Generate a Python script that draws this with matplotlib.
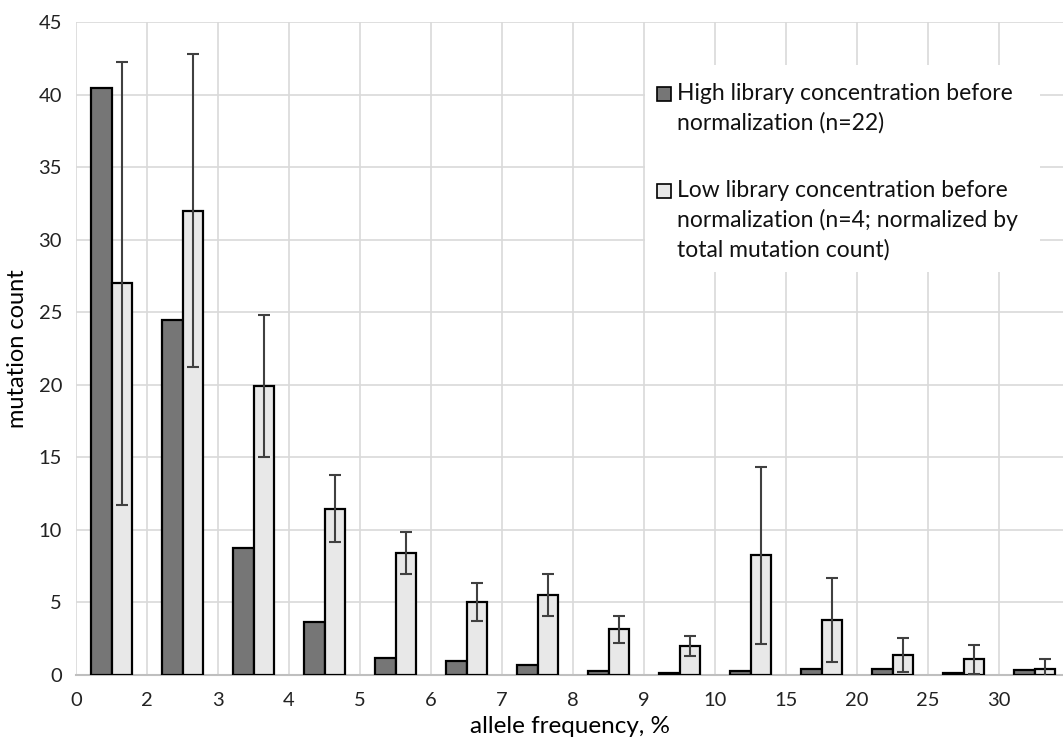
import numpy as np
from matplotlib import pyplot as plt
from matplotlib.patches import Rectangle

tick_labels = ['0', '2', '3', '4', '5', '6', '7', '8', '9', '10', '15', '20', '25', '30']
high_conc = [40.45, 24.45, 8.73, 3.63, 1.15, 0.99, 0.69, 0.28, 0.14, 0.28, 0.41, 0.41, 0.14, 0.34]
low_conc = [27.0, 32.0, 19.9, 11.46, 8.38, 5.03, 5.51, 3.15, 2.0, 8.25, 3.77, 1.38, 1.1, 0.41]
low_err = [15.25, 10.8, 4.9, 2.3, 1.45, 1.3, 1.47, 0.95, 0.72, 6.1, 2.9, 1.2, 1.0, 0.7]

high_label = 'High library concentration before\nnormalization (n=22)'
low_label = 'Low library concentration before\nnormalization (n=4; normalized by\ntotal mutation count)'
dark = '#767676'
light = '#e8e8e8'

plt.rcParams['font.family'] = ['Lato', 'DejaVu Sans']

fig = plt.figure(figsize=(10.63, 7.39), dpi=100)
ax = fig.add_axes([0.0715, 0.0866, 0.9285, 0.8836])

n = len(high_conc)
x = np.arange(n) + 0.5
w = 0.29

ax.bar(x - w/2, high_conc, w, color=dark, edgecolor='black', linewidth=1.6, zorder=3)
ax.bar(x + w/2, low_conc, w, color=light, edgecolor='black', linewidth=1.6, zorder=3)
ax.errorbar(x + w/2, low_conc, yerr=low_err, fmt='none', ecolor='#404040',
            elinewidth=1.5, capsize=4, capthick=1.5, zorder=4)

ax.set_xlim(0, 13.9)
ax.set_ylim(0, 45)
ax.set_xticks(np.arange(n))
ax.set_xticklabels(tick_labels)
ax.set_yticks(np.arange(0, 46, 5))
ax.tick_params(axis='both', length=0, labelsize=14.5, colors='#222222')
ax.tick_params(axis='x', pad=12)
ax.tick_params(axis='y', pad=10)

ax.grid(True, color='#d9d9d9', linewidth=1.2, zorder=0)
ax.set_axisbelow(True)
for s in ['top', 'right', 'left']:
    ax.spines[s].set_visible(False)
ax.spines['bottom'].set_color('#bfbfbf')
ax.spines['bottom'].set_linewidth(1.5)

ax.set_xlabel('allele frequency, %', fontsize=17.5, labelpad=5)
ax.set_ylabel('mutation count', fontsize=17, labelpad=8)

# legend drawn by hand so the swatch sits on the first text line
tr = fig.transFigure
def fx(px):
    return px / 1063
def fy(py):
    return 1 - py / 739

fig.patches.append(Rectangle((fx(645), fy(272)), fx(1040) - fx(645), fy(65) - fy(272),
                             transform=tr, facecolor='white', edgecolor='none', zorder=5))
for color, top_px, label in [(dark, 87, high_label), (light, 184, low_label)]:
    fig.patches.append(Rectangle((fx(657), fy(top_px + 14)), fx(14), 14 / 739,
                                 transform=tr, facecolor=color, edgecolor='black',
                                 linewidth=1.2, zorder=6))
    fig.text(fx(677), fy(top_px - 4), label, transform=tr, fontsize=16.5,
             va='top', ha='left', linespacing=1.45, color='#111111', zorder=6)

fig.savefig('out.png', dpi=100)
